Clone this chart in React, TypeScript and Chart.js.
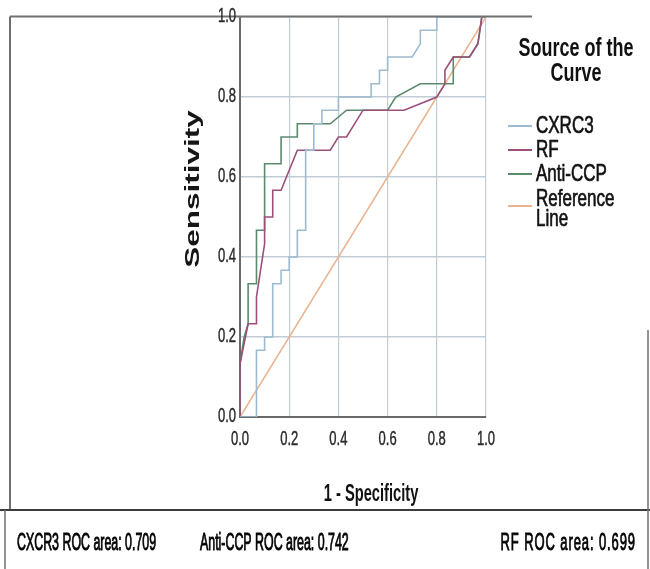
import React, { useEffect, useRef } from 'react';
import { Chart, registerables } from 'chart.js';

Chart.register(...registerables);

// ---- data ----
const xTickLabels = ['0.0', '0.2', '0.4', '0.6', '0.8', '1.0'];
const yTickLabels = ['0.0', '0.2', '0.4', '0.6', '0.8', '1.0'];

const cxcr3X = [0, 0.067, 0.067, 0.1, 0.1, 0.133, 0.133, 0.167, 0.167, 0.2, 0.2, 0.233, 0.233, 0.267, 0.267, 0.3, 0.3, 0.333, 0.333, 0.4, 0.4, 0.533, 0.533, 0.567, 0.567, 0.6, 0.6, 0.7, 0.733, 0.733, 0.8, 0.8, 1];
const cxcr3Y = [0, 0, 0.167, 0.167, 0.2, 0.2, 0.333, 0.333, 0.367, 0.367, 0.4, 0.4, 0.467, 0.467, 0.667, 0.667, 0.733, 0.733, 0.767, 0.767, 0.8, 0.8, 0.833, 0.833, 0.867, 0.867, 0.9, 0.9, 0.933, 0.967, 0.967, 1, 1];

const rfX = [0, 0, 0.033, 0.067, 0.067, 0.1, 0.1, 0.133, 0.133, 0.167, 0.233, 0.367, 0.4, 0.433, 0.5, 0.667, 0.8, 0.833, 0.833, 0.867, 0.933, 0.967, 0.983, 1];
const rfY = [0, 0.133, 0.233, 0.233, 0.3, 0.433, 0.5, 0.5, 0.567, 0.567, 0.667, 0.667, 0.7, 0.7, 0.767, 0.767, 0.8, 0.833, 0.867, 0.9, 0.9, 0.933, 1, 1];

const antiCcpX = [0, 0, 0.017, 0.033, 0.033, 0.067, 0.067, 0.1, 0.1, 0.167, 0.167, 0.233, 0.233, 0.367, 0.433, 0.6, 0.633, 0.733, 0.867, 0.867, 0.933, 0.967, 0.983, 1];
const antiCcpY = [0, 0.133, 0.2, 0.233, 0.333, 0.333, 0.467, 0.467, 0.633, 0.633, 0.7, 0.7, 0.733, 0.733, 0.767, 0.767, 0.8, 0.833, 0.833, 0.9, 0.9, 0.933, 1, 1];

const refX = [0, 1];
const refY = [0, 1];

const seriesNames = ['CXRC3', 'RF', 'Anti-CCP', 'Reference Line'];
const seriesColors = ['#9dbbd0', '#9c4f78', '#5b8a6c', '#e9b48f'];
const legendTitle = ['Source of the', 'Curve'];
const rocAreaLabels = ['CXCR3 ROC area: 0.709', 'Anti-CCP ROC area: 0.742', 'RF ROC area: 0.699'];
const xTitle = '1 - Specificity';
const yTitle = 'Sensitivity';

const ARIAL = '"Liberation Sans", Arial, sans-serif';

const toPoints = (xs: number[], ys: number[]) => xs.map((x, i) => ({ x, y: ys[i] }));

const overlayPlugin = {
  id: 'overlay',
  afterDraw(chart: any) {
    const ctx: CanvasRenderingContext2D = chart.ctx;
    ctx.save();
    const line = (x1: number, y1: number, x2: number, y2: number) => {
      ctx.beginPath();
      ctx.moveTo(x1, y1);
      ctx.lineTo(x2, y2);
      ctx.stroke();
    };
    const txt = (s: string, x: number, y: number, font: string, align: CanvasTextAlign, sy: number, color = '#111', heavy = 0.45, spacing = 0) => {
      ctx.save();
      ctx.translate(x, y);
      ctx.scale(1, sy);
      ctx.font = font;
      (ctx as any).letterSpacing = spacing + 'px';
      ctx.textAlign = align;
      ctx.textBaseline = 'middle';
      ctx.fillStyle = color;
      ctx.fillText(s, 0, 0);
      if (heavy > 0) {
        ctx.strokeStyle = color;
        ctx.lineWidth = heavy;
        ctx.strokeText(s, 0, 0);
      }
      (ctx as any).letterSpacing = '0px';
      ctx.restore();
    };
    // frame
    ctx.strokeStyle = '#707070';
    ctx.lineWidth = 2;
    line(10, 16.5, 532, 16.5);
    line(10, 16.5, 10, 510);
    ctx.strokeStyle = '#3c3c3c';
    line(0, 510, 650, 510);
    ctx.lineWidth = 1.5;
    ctx.strokeStyle = '#707070';
    line(5, 510, 5, 569);
    line(648, 330, 648, 569);

    // tick labels placed with the library's scales
    const xs = chart.scales.x;
    const ys = chart.scales.y;
    xs.ticks.forEach((t: any, i: number) => {
      txt(xTickLabels[i], xs.getPixelForValue(t.value), 440, '13px ' + ARIAL, 'center', 1.5, '#2a2a2a', 0.3);
    });
    ys.ticks.forEach((t: any, i: number) => {
      txt(yTickLabels[i], chart.chartArea.left - 4, ys.getPixelForValue(t.value), '13px ' + ARIAL, 'right', 1.5, '#2a2a2a', 0.3);
    });

    // axis titles
    txt(xTitle, (chart.chartArea.left + chart.chartArea.right) / 2 + 8, 494, 'bold 14.7px ' + ARIAL, 'center', 1.65, '#111', 0);
    ctx.save();
    ctx.translate(193, 189);
    ctx.rotate(-Math.PI / 2);
    ctx.scale(1.5, 1);
    ctx.font = 'bold 21px ' + ARIAL;
    ctx.textAlign = 'center';
    ctx.textBaseline = 'middle';
    ctx.fillStyle = '#161616';
    ctx.fillText(yTitle, 0, 0);
    ctx.restore();

    // legend
    txt(legendTitle[0], 576, 49, 'bold 18px ' + ARIAL, 'center', 1.45, '#111', 0);
    txt(legendTitle[1], 576, 74, 'bold 18px ' + ARIAL, 'center', 1.45, '#111', 0);
    const itemY = [126, 150, 174, 199];
    chart.data.datasets.forEach((ds: any, i: number) => {
      const words = i === 3 ? ['Reference', 'Line'] : [ds.label];
      const ly = i === 3 ? 206 : itemY[i];
      ctx.strokeStyle = ds.borderColor;
      ctx.lineWidth = 2;
      line(508, ly, 532, ly);
      words.forEach((w: string, k: number) => txt(w, 536, itemY[i] + k * 20, '17px ' + ARIAL, 'left', 1.4, '#111', 0.5));
    });

    // ROC area row
    txt(rocAreaLabels[0], 17, 543, '12.4px ' + ARIAL, 'left', 1.9, '#000', 0.5);
    txt(rocAreaLabels[1], 200, 543, '12.4px ' + ARIAL, 'left', 1.9, '#000', 0.5);
    txt(rocAreaLabels[2], 636, 543, '13px ' + ARIAL, 'right', 1.85, '#000', 0.5, 0.9);
    ctx.restore();
  },
};

export default function App() {
  const canvasRef = useRef<HTMLCanvasElement | null>(null);

  useEffect(() => {
    const canvas = canvasRef.current;
    if (!canvas) return;
    const allX = [cxcr3X, rfX, antiCcpX, refX];
    const allY = [cxcr3Y, rfY, antiCcpY, refY];
    const chart = new Chart(canvas, {
      type: 'line',
      data: {
        datasets: seriesNames.map((name, i) => ({
          label: name,
          data: toPoints(allX[i], allY[i]),
          borderColor: seriesColors[i],
          backgroundColor: seriesColors[i],
          borderWidth: 1.6,
          pointRadius: 0,
          tension: 0,
          fill: false,
        })),
      },
      options: {
        responsive: false,
        animation: false,
        devicePixelRatio: 1,
        layout: { padding: { left: 180, right: 164, top: 17, bottom: 63 } },
        plugins: {
          legend: { display: false },
          tooltip: { enabled: false },
        },
        scales: {
          x: {
            type: 'linear',
            min: 0,
            max: 1,
            afterFit: (s: any) => { s.height = 89; },
            afterBuildTicks: (s: any) => { s.ticks = xTickLabels.map((t) => ({ value: parseFloat(t) })); },
            ticks: { display: false },
            grid: { color: '#c2ccd6', lineWidth: 1.2, drawTicks: false },
            border: { color: '#6a6a6a', width: 2 },
          },
          y: {
            type: 'linear',
            min: 0,
            max: 1,
            afterFit: (s: any) => { s.width = 60; },
            afterBuildTicks: (s: any) => { s.ticks = yTickLabels.map((t) => ({ value: parseFloat(t) })); },
            ticks: { display: false },
            grid: { color: '#c2ccd6', lineWidth: 1.5, drawTicks: false },
            border: { color: '#6a6a6a', width: 2 },
          },
        },
      },
      plugins: [overlayPlugin],
    } as any);
    return () => chart.destroy();
  }, []);

  return (
    <div style={{ position: 'absolute', left: 0, top: 0, width: 650, height: 569, background: '#fff' }}>
      <canvas ref={canvasRef} width={650} height={569} style={{ display: 'block', width: 650, height: 569 }} />
    </div>
  );
}
